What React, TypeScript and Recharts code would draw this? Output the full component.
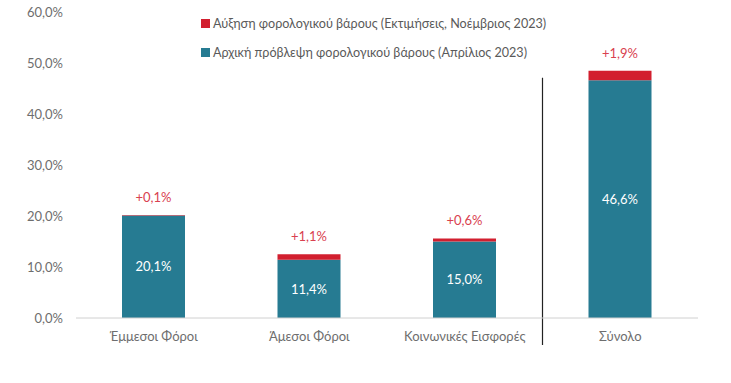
import { BarChart, Bar, XAxis, YAxis, LabelList, ReferenceLine } from 'recharts';

const categories = ['Έμμεσοι Φόροι', 'Άμεσοι Φόροι', 'Κοινωνικές Εισφορές', 'Σύνολο'];
const initialForecast = [20.1, 11.4, 15.0, 46.6];
const burdenIncrease = [0.1, 1.1, 0.6, 1.9];
const yTicks = [0, 10, 20, 30, 40, 50, 60];

const seriesNames = {
  increase: 'Αύξηση φορολογικού βάρους (Εκτιμήσεις, Νοέμβριος 2023)',
  initial: 'Αρχική πρόβλεψη φορολογικού βάρους (Απρίλιος 2023)',
};

const TEAL = '#267b92';
const RED = '#d21f2f';
const FONT = 'Lato, "Noto Sans", sans-serif';
const FS = 13;

const data = categories.map((name, i) => ({
  name,
  initial: initialForecast[i],
  increase: burdenIncrease[i],
}));

const pct = (v: number) => `${Number(v).toFixed(1).replace('.', ',')}%`;

// legend sits over the plot, it doesn't take space from it
const LegendBox = () => (
  <div style={{ position: 'absolute', left: 201, top: 9, fontFamily: FONT, fontSize: 12.6, color: '#5a5a5a' }}>
    {[
      { label: seriesNames.increase, color: RED },
      { label: seriesNames.initial, color: TEAL },
    ].map((item) => (
      <div key={item.label} style={{ display: 'flex', alignItems: 'center', height: 29 }}>
        <span style={{ width: 9, height: 9, background: item.color, marginRight: 3, display: 'inline-block' }} />
        <span>{item.label}</span>
      </div>
    ))}
  </div>
);

export default function App() {
  return (
    <div style={{ position: 'absolute', left: 0, top: 0, width: 731, height: 383, background: '#fff' }}>
      <BarChart
        width={731}
        height={383}
        data={data}
        margin={{ top: 12, right: 33, bottom: 35, left: 0 }}
        barSize={63}
      >
        <XAxis
          dataKey="name"
          tickLine={false}
          axisLine={{ stroke: '#d0d0d0' }}
          tick={{ fill: '#6e6e6e', fontSize: FS, fontFamily: FONT }}
          tickMargin={8}
          height={30}
        />
        <YAxis
          domain={[0, 60]}
          ticks={yTicks}
          tickFormatter={pct}
          axisLine={false}
          tickLine={false}
          tickSize={0}
          tickMargin={13}
          width={76}
          tick={{ fill: '#6e6e6e', fontSize: FS, fontFamily: FONT }}
        />
        <ReferenceLine
          segment={[
            { x: 'Σύνολο', y: 47.1 },
            { x: 'Σύνολο', y: -5.3 },
          ]}
          position="start"
          stroke="#222"
          strokeWidth={1.2}
          ifOverflow="visible"
        />
        <Bar dataKey="initial" stackId="a" fill={TEAL} isAnimationActive={false} name={seriesNames.initial}>
          <LabelList
            dataKey="initial"
            position="center"
            formatter={(v: any) => pct(v)}
            fill="#fff"
            style={{ fontFamily: FONT, fontSize: FS }}
          />
        </Bar>
        <Bar dataKey="increase" stackId="a" fill={RED} isAnimationActive={false} name={seriesNames.increase}>
          <LabelList
            dataKey="increase"
            position="top"
            offset={13}
            formatter={(v: any) => `+${pct(v)}`}
            fill="#d9414f"
            style={{ fontFamily: FONT, fontSize: FS }}
          />
        </Bar>
      </BarChart>
      <LegendBox />
    </div>
  );
}
